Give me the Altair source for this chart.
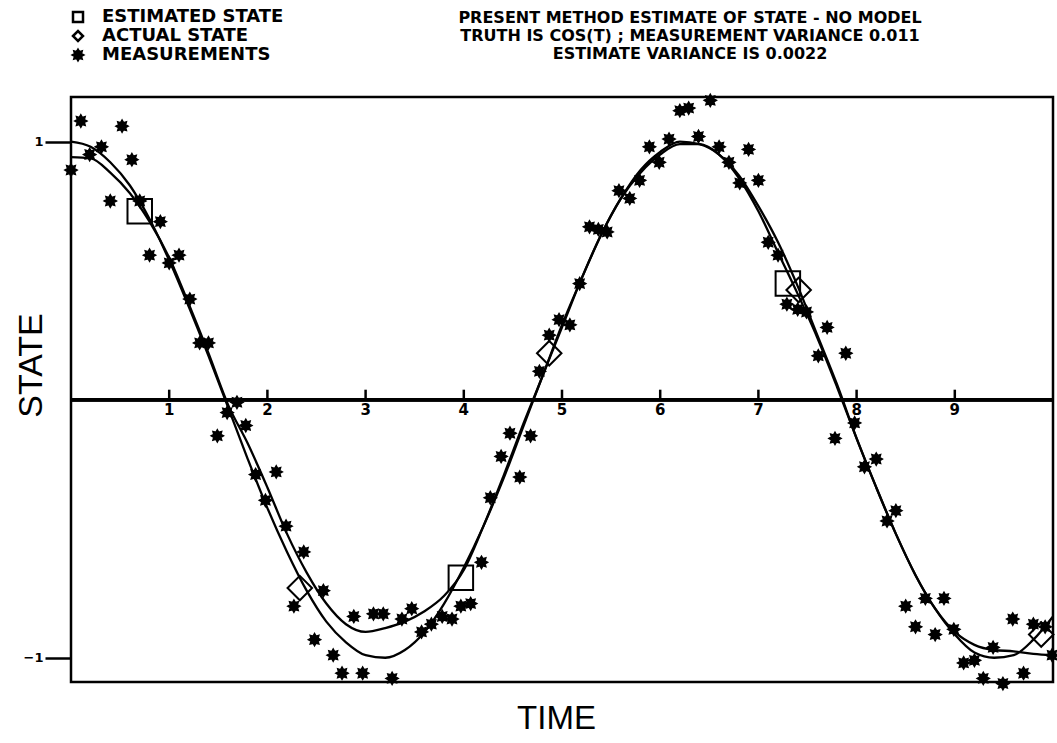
import altair as alt
import pandas as pd

# ---------------- data ----------------
time_grid = [0.0, 0.2, 0.4, 0.6, 0.8, 1.0, 1.2, 1.4, 1.6, 1.8,
             2.0, 2.2, 2.4, 2.6, 2.8, 3.0, 3.2, 3.4, 3.6, 3.8,
             4.0, 4.2, 4.4, 4.6, 4.8, 5.0, 5.2, 5.4, 5.6, 5.8,
             6.0, 6.2, 6.4, 6.6, 6.8, 7.0, 7.2, 7.4, 7.6, 7.8,
             8.0, 8.2, 8.4, 8.6, 8.8, 9.0, 9.2, 9.4, 9.6, 9.8, 10.0]

actual_state = [1.00, 0.98, 0.92, 0.83, 0.70, 0.54, 0.36, 0.17, -0.03, -0.23,
                -0.42, -0.59, -0.74, -0.86, -0.94, -0.99, -1.00, -0.97, -0.90, -0.79,
                -0.65, -0.49, -0.31, -0.11, 0.09, 0.28, 0.47, 0.64, 0.78, 0.89,
                0.96, 1.00, 0.99, 0.95, 0.87, 0.75, 0.61, 0.44, 0.25, 0.06,
                -0.15, -0.34, -0.52, -0.68, -0.81, -0.91, -0.98, -1.00, -0.99, -0.93, -0.84]

estimated_state = [0.94, 0.935, 0.88, 0.80, 0.69, 0.55, 0.37, 0.18, -0.02, -0.17,
                   -0.34, -0.52, -0.67, -0.79, -0.87, -0.90, -0.885, -0.86, -0.82, -0.76,
                   -0.66, -0.49, -0.30, -0.10, 0.09, 0.29, 0.47, 0.64, 0.78, 0.88,
                   0.95, 0.99, 0.99, 0.95, 0.86, 0.73, 0.57, 0.41, 0.24, 0.05,
                   -0.15, -0.34, -0.52, -0.68, -0.81, -0.90, -0.95, -0.97, -0.975, -0.985, -0.99]

meas_t = [0.00, 0.10, 0.19, 0.31, 0.40, 0.52, 0.62, 0.70, 0.80, 0.91,
          1.00, 1.10, 1.21, 1.31, 1.40, 1.49, 1.59, 1.69, 1.78, 1.88,
          1.98, 2.09, 2.19, 2.27, 2.37, 2.48, 2.57, 2.67, 2.76, 2.88,
          2.97, 3.08, 3.18, 3.27, 3.37, 3.47, 3.57, 3.67, 3.78, 3.88,
          3.97, 4.07, 4.18, 4.27, 4.38, 4.47, 4.57, 4.68, 4.77, 4.87,
          4.97, 5.08, 5.18, 5.28, 5.37, 5.46, 5.58, 5.69, 5.79, 5.89,
          5.99, 6.09, 6.20, 6.29, 6.39, 6.51, 6.60, 6.70, 6.81, 6.90,
          7.00, 7.10, 7.20, 7.29, 7.40, 7.49, 7.61, 7.70, 7.78, 7.89,
          7.98, 8.08, 8.20, 8.31, 8.40, 8.50, 8.60, 8.70, 8.80, 8.89,
          8.99, 9.09, 9.20, 9.29, 9.39, 9.49, 9.59, 9.70, 9.80, 9.92, 9.99]
meas_v = [0.89, 1.08, 0.95, 0.98, 0.77, 1.06, 0.93, 0.77, 0.56, 0.69,
          0.53, 0.56, 0.39, 0.22, 0.22, -0.14, -0.05, -0.01, -0.10, -0.29,
          -0.39, -0.28, -0.49, -0.80, -0.59, -0.93, -0.74, -0.99, -1.06, -0.84,
          -1.06, -0.83, -0.83, -1.08, -0.85, -0.81, -0.90, -0.87, -0.84, -0.85,
          -0.80, -0.79, -0.63, -0.38, -0.22, -0.13, -0.30, -0.14, 0.11, 0.25,
          0.31, 0.29, 0.45, 0.67, 0.66, 0.65, 0.81, 0.78, 0.85, 0.98,
          0.92, 1.01, 1.12, 1.13, 1.02, 1.16, 0.98, 0.92, 0.84, 0.97,
          0.85, 0.61, 0.56, 0.37, 0.35, 0.34, 0.17, 0.28, -0.15, 0.18,
          -0.09, -0.26, -0.23, -0.47, -0.43, -0.80, -0.88, -0.77, -0.91, -0.77,
          -0.89, -1.02, -1.01, -1.08, -0.96, -1.10, -0.85, -1.06, -0.87, -0.88, -0.99]

est_marker_t = [0.70, 3.97, 7.30]
est_marker_v = [0.73, -0.69, 0.45]
act_marker_t = [2.33, 4.87, 7.41, 9.88]
act_marker_v = [-0.73, 0.18, 0.425, -0.91]

x_ticks = [1, 2, 3, 4, 5, 6, 7, 8, 9]
y_ticks = [-1, 1]

series_names = ["ESTIMATED STATE", "ACTUAL STATE", "MEASUREMENTS"]
title_lines = ["PRESENT METHOD ESTIMATE OF STATE - NO MODEL",
               "TRUTH IS COS(T) ; MEASUREMENT VARIANCE 0.011",
               "ESTIMATE VARIANCE IS 0.0022"]

# ---------------- tables ----------------
curves = pd.DataFrame({
    "t": time_grid * 2,
    "v": actual_state + estimated_state,
    "curve": ["actual"] * len(time_grid) + ["estimate"] * len(time_grid),
})
meas = pd.DataFrame({"t": meas_t, "v": meas_v, "series": series_names[2]})
est_m = pd.DataFrame({"t": est_marker_t, "v": est_marker_v, "series": series_names[0]})
act_m = pd.DataFrame({"t": act_marker_t, "v": act_marker_v, "series": series_names[1]})
ticks_df = pd.DataFrame({"t": x_ticks, "label": [str(k) for k in x_ticks]})

STAR = ("M1,0L0.58,0.24L0.71,0.71L0.24,0.58L0,1L-0.24,0.58L-0.71,0.71L-0.58,0.24"
        "L-1,0L-0.58,-0.24L-0.71,-0.71L-0.24,-0.58L0,-1L0.24,-0.58L0.71,-0.71L0.58,-0.24Z")

FONT = "DejaVu Sans"

x_scale = alt.Scale(domain=[0, 10], nice=False, zero=False)
y_scale = alt.Scale(domain=[-1.094, 1.173], nice=False, zero=False)

x_enc = alt.X("t:Q", scale=x_scale,
              axis=alt.Axis(title="TIME", domain=False, ticks=False, labels=False, grid=False,
                            titleFont="Liberation Sans", titleFontSize=33, titleFontWeight="normal",
                            titleX=485, titleY=36, titleBaseline="middle", titleAnchor="middle"))
y_enc = alt.Y("v:Q", scale=y_scale,
              axis=alt.Axis(title="STATE", values=y_ticks, format=".0f", domain=False, grid=False,
                            tickSize=26, tickWidth=2.5, tickColor="black",
                            labelFont=FONT, labelFontWeight="bold", labelFontSize=13,
                            labelColor="black", labelPadding=2,
                            titleFont="Liberation Sans", titleFontSize=34, titleFontWeight="normal",
                            titleAngle=-90, titleX=-40, titleY=268, titleBaseline="middle",
                            titleAlign="center"))

legend = alt.Legend(title=None, orient="none", legendX=-2, legendY=-89, direction="vertical",
                    labelFont=FONT, labelFontWeight="bold", labelFontSize=18, labelColor="black",
                    labelOffset=15, labelLimit=500, rowPadding=-4, padding=0, symbolSize=100,
                    symbolStrokeWidth=2.5)

shape_enc = alt.Shape("series:N", scale=alt.Scale(domain=series_names,
                                                   range=["square", "diamond", STAR]),
                      legend=legend)
fill_enc = alt.Fill("series:N", scale=alt.Scale(domain=series_names,
                                                 range=["transparent", "transparent", "black"]),
                    legend=legend)
stroke_enc = alt.Stroke("series:N", scale=alt.Scale(domain=series_names,
                                                     range=["black", "black", "black"]),
                        legend=legend)

lines = alt.Chart(curves).mark_line(color="black", strokeWidth=2.3, interpolate="monotone").encode(
    x=x_enc, y=y_enc, detail="curve:N")

zero_line = alt.Chart(ticks_df).mark_rule(color="black", strokeWidth=3).encode(y=alt.datum(0))

tick_marks = alt.Chart(ticks_df).mark_rule(color="black", strokeWidth=2.5, y2Offset=-10).encode(
    x=alt.X("t:Q", scale=x_scale), y=alt.datum(0), y2=alt.datum(0))

tick_labels = alt.Chart(ticks_df).mark_text(font=FONT, fontWeight="bold", fontSize=15,
                                            baseline="top", dy=3, color="black").encode(
    x=alt.X("t:Q", scale=x_scale), y=alt.datum(0), text="label:N")

def markers(df, size, sw):
    return alt.Chart(df).mark_point(filled=False, strokeWidth=sw, opacity=1,
                                    size=size).encode(
        x=alt.X("t:Q", scale=x_scale), y=alt.Y("v:Q", scale=y_scale),
        shape=shape_enc, fill=fill_enc, stroke=stroke_enc)

stars = markers(meas, 150, 1.5)
squares = markers(est_m, 600, 2)
diamonds = markers(act_m, 600, 2)

chart = alt.layer(zero_line, tick_marks, tick_labels, lines, stars, squares, diamonds).properties(
    width=982, height=585,
    autosize=alt.AutoSizeParams(type="none"),
    padding={"left": 71, "top": 97, "right": 4, "bottom": 61},
    title=alt.TitleParams(text=title_lines, anchor="middle", frame="group", dx=128, dy=88,
                          offset=34, font=FONT, fontWeight="bold", fontSize=16, lineHeight=18,
                          color="black"),
    background="white",
).configure_view(stroke="black", strokeWidth=2.5).configure_axis(labelColor="black")

chart.save("out.html", embed_options={"renderer": "svg", "actions": False})
